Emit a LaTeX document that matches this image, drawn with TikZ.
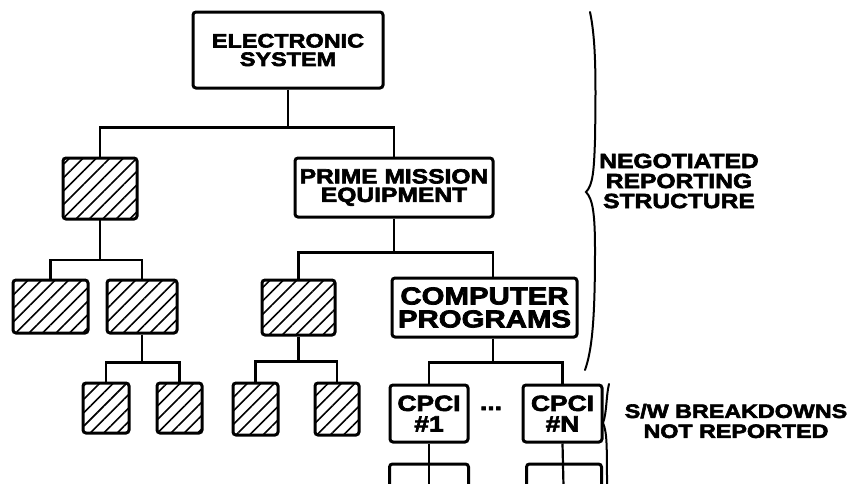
\documentclass[tikz,border=0pt]{standalone}
\usepackage{fontspec}
\newfontfamily\hb{Liberation Sans Bold}[FakeStretch=1.2,FakeBold=3]
\usetikzlibrary{patterns.meta}
\begin{document}
\begin{tikzpicture}[x=1pt,y=-1pt,
  box/.style={draw, line width=3pt, rounded corners=3pt, align=center, inner sep=0pt, fill=white},
  hatch/.style={draw, line width=3pt, rounded corners=3pt, inner sep=0pt,
    pattern={Lines[angle=45,distance=9.5pt,line width=1.6pt]}},
  conn/.style={line width=2.2pt},
  bracepath/.style={line width=2pt, line cap=round},
  lbl/.style={align=center, inner sep=0pt},
  fES/.style={font=\hb\fontsize{19.5}{18.5}\selectfont},
  fPM/.style={font=\hb\fontsize{20.5}{18.5}\selectfont},
  fCP/.style={font=\hb\fontsize{24.5}{23}\selectfont},
  fCI/.style={font=\hb\fontsize{22}{20.5}\selectfont},
  fLB/.style={font=\hb\fontsize{20.5}{20}\selectfont},
  fSW/.style={font=\hb\fontsize{19.4}{20}\selectfont}]
\useasboundingbox (0,0) rectangle (854,483);
\clip (0,0) rectangle (854,483);

% level 1
\node[box, fES, minimum width=190pt, minimum height=76pt] (es) at (288,50) {ELECTRONIC\\SYSTEM};

% level 2
\node[hatch, minimum width=74pt, minimum height=61pt] (l2a) at (100,188.5) {};
\node[box, fPM, minimum width=198pt, minimum height=59pt] (pme) at (394,187.5) {PRIME MISSION\\EQUIPMENT};

% level 3
\node[hatch, minimum width=75pt, minimum height=53pt] (l3a) at (50.5,306.5) {};
\node[hatch, minimum width=70pt, minimum height=53pt] (l3b) at (142,306.5) {};
\node[hatch, minimum width=73pt, minimum height=55pt] (l3c) at (298.5,307.5) {};
\node[box, fCP, minimum width=185pt, minimum height=59pt] (cp) at (484.5,307.5) {COMPUTER\\PROGRAMS};

% level 4
\node[hatch, minimum width=46pt, minimum height=50pt] (l4a) at (106,408) {};
\node[hatch, minimum width=45pt, minimum height=50pt] (l4b) at (179.5,408) {};
\node[hatch, minimum width=45pt, minimum height=52pt] (l4c) at (255.5,409) {};
\node[hatch, minimum width=44pt, minimum height=52pt] (l4d) at (337,409) {};
\node[box, fCI, minimum width=78pt, minimum height=57pt] (c1) at (429,413.5) {CPCI\\\#1};
\node[box, fCI, minimum width=79pt, minimum height=57pt] (cn) at (562.5,413.5) {CPCI\\\#N};
\node[fCI, inner sep=0pt, anchor=base] (dots) at (491,410) {...};

% level 5 (cut off)
\node[box, minimum width=79pt, minimum height=42pt] (s1) at (429,485) {};
\node[box, minimum width=75pt, minimum height=42pt] (sn) at (564,485) {};

% connectors
\draw[conn] (es.south) -- ++(0,38) coordinate (b1);
\draw[conn] (b1) -| (l2a.north);
\draw[conn] (b1) -| (pme.north);
\draw[conn] (l2a.south) -- ++(0,40) coordinate (b2);
\draw[conn] (b2) -| (l3a.north);
\draw[conn] (b2) -| (l3b.north);
\draw[conn] (pme.south) -- ++(0,34) coordinate (b3);
\draw[conn] (b3) -| (l3c.north);
\draw[conn] (b3) -| ([xshift=8.5pt]cp.north);
\draw[conn] (l3b.south) -- ++(0,28) coordinate (b4);
\draw[conn] (b4) -| (l4a.north);
\draw[conn] (b4) -| (l4b.north);
\draw[conn] (l3c.south) -- ++(0,25) coordinate (b5);
\draw[conn] (b5) -| (l4c.north);
\draw[conn] (b5) -| (l4d.north);
\draw[conn] ([xshift=8.5pt]cp.south) -- ++(0,24) coordinate (b6);
\draw[conn] (b6) -| (c1.north);
\draw[conn] (b6) -| (cn.north);
\draw[conn] (c1.south) -- (s1.south);
\draw[conn] (cn.south) -- (sn.south);

% labels
\node[lbl, fLB] (nrs) at (679,181) {NEGOTIATED\\REPORTING\\STRUCTURE};
\node[lbl, fSW] (sw) at (736,421) {S/W BREAKDOWNS\\NOT REPORTED};

% braces
\draw[bracepath] (590,12) .. controls (596,40) and (596,80) .. (595,140)
  .. controls (594,170) and (593,185) .. (586,192)
  .. controls (593,199) and (595,215) .. (595,250)
  .. controls (595,320) and (592,350) .. (585,370);
\draw[bracepath] (609,384) .. controls (606,396) and (607,412) .. (603,423)
  .. controls (607,432) and (607,445) .. (607,490);
\end{tikzpicture}
\end{document}
